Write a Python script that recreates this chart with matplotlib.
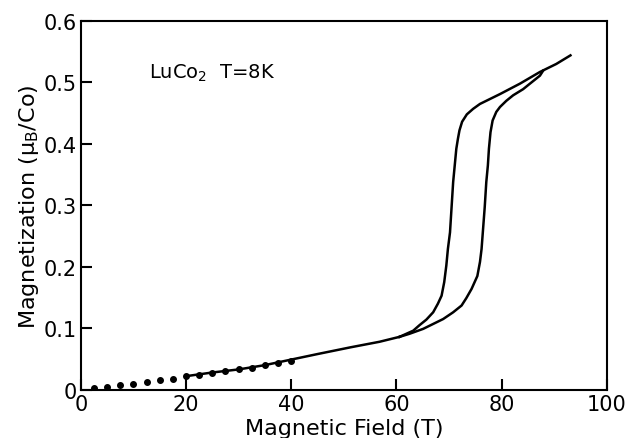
import matplotlib
matplotlib.use("Agg")
import matplotlib.pyplot as plt

# low field measured points (T, mu_B/Co)
dot_field = [2.5, 5, 7.5, 10, 12.5, 15, 17.5, 20, 22.5, 25, 27.5, 30, 32.5, 35, 37.5, 40]
dot_mag = [0.003, 0.004, 0.007, 0.010, 0.013, 0.016, 0.018, 0.022,
           0.024, 0.028, 0.031, 0.033, 0.036, 0.040, 0.044, 0.047]

# common curve below the transition
base_field = [20, 25, 30, 35, 40, 45, 51.3, 56.8, 60.6]
base_mag = [0.022, 0.028, 0.033, 0.040, 0.049, 0.058, 0.069, 0.078, 0.086]

# decreasing field branch (left)
down_field = [60.6, 61.9, 63.2, 64.4, 65.7, 67.0, 67.9, 68.6, 69.1, 69.5, 69.8, 70.2,
              70.5, 70.8, 71.1, 71.4, 71.7, 72.0, 72.5, 73.4, 74.6, 75.9,
              77.8, 79.7, 83.5, 87.3, 90.4, 93.1]
down_mag = [0.086, 0.091, 0.096, 0.105, 0.114, 0.126, 0.140, 0.153, 0.175, 0.202, 0.229, 0.256,
            0.297, 0.338, 0.365, 0.392, 0.408, 0.422, 0.436, 0.448, 0.457, 0.465,
            0.473, 0.481, 0.498, 0.517, 0.530, 0.544]

# increasing field branch (right)
up_field = [60.6, 62.5, 65.1, 67.0, 68.9, 70.8, 72.4, 73.3, 74.3, 75.4, 75.9, 76.2,
            76.8, 77.1, 77.4, 77.6, 77.9, 78.3, 79.0, 79.7, 80.9, 82.2, 84.1,
            85.4, 87.3, 87.9]
up_mag = [0.086, 0.091, 0.099, 0.107, 0.115, 0.126, 0.137, 0.149, 0.164, 0.185, 0.208, 0.229,
          0.297, 0.338, 0.365, 0.392, 0.419, 0.438, 0.452, 0.460, 0.470, 0.479, 0.489,
          0.498, 0.511, 0.519]

x_ticks = [0, 20, 40, 60, 80, 100]
y_ticks = [0, 0.1, 0.2, 0.3, 0.4, 0.5, 0.6]
y_ticklabels = ["0", "0.1", "0.2", "0.3", "0.4", "0.5", "0.6"]

plt.rcParams["font.family"] = "DejaVu Sans"
plt.rcParams["mathtext.default"] = "regular"

fig = plt.figure(figsize=(6.36, 4.39), dpi=100)
ax = fig.add_axes([0.127, 0.11, 0.827, 0.84])

ax.plot(base_field, base_mag, color="black", lw=1.8)
ax.plot(down_field, down_mag, color="black", lw=1.8)
ax.plot(up_field, up_mag, color="black", lw=1.8)
ax.plot(dot_field, dot_mag, "o", color="black", ms=4, ls="none")

ax.text(13, 0.517, "LuCo$_2$  T=8K", fontsize=14, va="center")

ax.set_xlim(0, 100)
ax.set_ylim(0, 0.6)
ax.set_xticks(x_ticks)
ax.set_yticks(y_ticks)
ax.set_yticklabels(y_ticklabels)
ax.tick_params(direction="in", length=8, width=1.5, labelsize=15, top=False, right=False)
ax.tick_params(axis="x", pad=3)
ax.tick_params(axis="y", pad=3)
for s in ax.spines.values():
    s.set_linewidth(1.5)

ax.set_xlabel("Magnetic Field (T)", fontsize=16, labelpad=3)
ax.set_ylabel("Magnetization ($\\mu_B$/Co)", fontsize=16, labelpad=2)

fig.savefig("out.png", dpi=100)
